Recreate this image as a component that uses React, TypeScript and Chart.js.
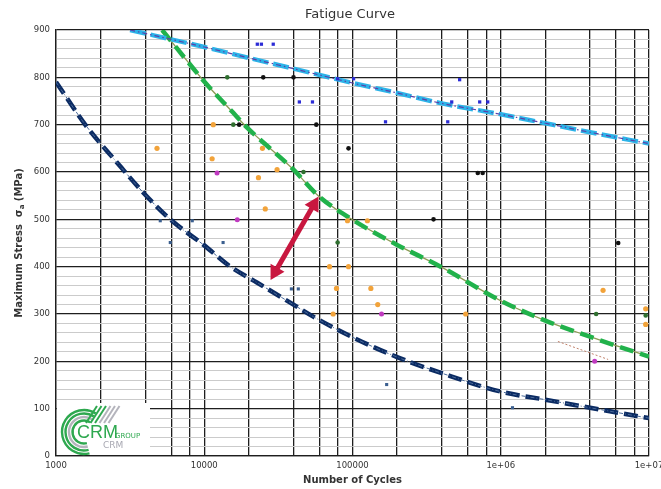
import React, { useEffect, useRef } from "react";
import { Chart, registerables } from "chart.js";
Chart.register(...registerables);

// ---- axis ticks ----
const xTickValues = [1000, 2000, 4000, 6000, 8000, 10000, 20000, 40000, 60000, 80000, 100000, 200000, 400000, 600000, 800000, 1000000, 2000000, 4000000, 6000000, 8000000, 10000000];
const xDecadeValues = [1000, 10000, 100000, 1000000, 10000000];
const xDecadeLabels = ["1000", "10000", "100000", "1e+06", "1e+07"];
const yLabelValues = [0, 100, 200, 300, 400, 500, 600, 700, 800, 900];
const yLabels = ["0", "100", "200", "300", "400", "500", "600", "700", "800", "900"];
const yMinorStep = 20;

// ---- fitted curves ----
const cyanN = [3162, 10000, 20000, 50000, 100000, 200000, 400000, 1000000, 2000000, 4000000, 10000000];
const cyanS = [900, 864, 841, 811, 788, 767, 745, 722, 703, 684, 660];

const greenN = [5200, 10200, 15700, 19000, 40000, 58700, 100000, 200000, 393000, 1000000, 2000000, 4000000, 6000000, 10000000];
const greenS = [900, 788, 725, 697, 605, 550, 499, 446, 400, 328, 286, 252, 233, 210];

const navyN = [1000, 1620, 2500, 4000, 6000, 9900, 15000, 22800, 38000, 54700, 100000, 200000, 400000, 1000000, 2000000, 4000000, 10000000];
const navyS = [790, 695, 625, 552, 498, 446, 400, 366, 324, 294, 251, 209, 175, 136, 119, 102, 80];

const dottedN = [2430000, 5300000];
const dottedS = [242, 204];

// ---- test points ----
const blueN = [22800, 24300, 29200, 43800, 53700, 79300, 101700, 528000, 467000, 721000, 817000, 167000, 439000];
const blueS = [870, 870, 870, 748, 748, 797, 797, 795, 748, 748, 748, 706, 706];

const slateN = [5050, 8300, 5900, 13400, 38700, 43100, 170000, 1200000];
const slateS = [497, 497, 451, 451, 353, 353, 151, 102];

const blackN = [25000, 40000, 57000, 17200, 94000, 700000, 755000, 352000, 6200000];
const blackS = [800, 800, 700, 700, 650, 598, 598, 500, 450];

const dkGreenN = [14300, 15700, 46700, 79400, 4400000, 9500000];
const dkGreenS = [800, 700, 600, 451, 300, 297];

const orangeN = [4800, 11300, 11500, 24700, 23200, 25800, 31000, 70000, 78000, 94000, 133000, 148000, 74000, 580000, 4900000, 9500000, 9500000, 92500, 126000];
const orangeS = [650, 628, 700, 650, 588, 522, 605, 400, 354, 400, 354, 320, 300, 300, 350, 311, 278, 497, 497];

const magentaN = [12200, 16700, 157000, 4300000];
const magentaS = [598, 499, 300, 200];

// ---- annotation arrow ----
const arrowN = [28000, 59000];
const arrowS = [372, 548];

const pts = (n: number[], s: number[]) => n.map((x, i) => ({ x, y: s[i] }));

const curve = (n: number[], s: number[], color: string, width: number, dash: number[]) => ({
  data: pts(n, s),
  showLine: true,
  borderColor: color,
  backgroundColor: color,
  borderWidth: width,
  borderDash: dash,
  pointRadius: 0,
  cubicInterpolationMode: "monotone" as const,
});

const dots = (n: number[], s: number[], color: string, style: string, r: number) => ({
  data: pts(n, s),
  showLine: false,
  pointStyle: style,
  pointRadius: r,
  pointBackgroundColor: color,
  pointBorderColor: color,
  pointBorderWidth: 0,
});

const decorPlugin = {
  id: "decor",
  afterDraw(chart: any) {
    const ctx = chart.ctx as CanvasRenderingContext2D;
    const ca = chart.chartArea;
    const xs = chart.scales.x;
    const ys = chart.scales.y;
    const cx = (ca.left + ca.right) / 2;

    // logo box
    const L = ca.left, B = ca.bottom;
    ctx.save();
    ctx.fillStyle = "#ffffff";
    ctx.fillRect(L + 1, B - 53, 93, 52);
    const arcs: [number, string][] = [[22, "#2ea84f"], [18.5, "#2ea84f"], [15, "#b4b4bc"], [11.5, "#2ea84f"]];
    arcs.forEach(([r, c]) => {
      ctx.beginPath();
      ctx.strokeStyle = c;
      ctx.lineWidth = 2.4;
      ctx.arc(L + 28, B - 24, r, -0.32 * Math.PI, 0.42 * Math.PI, true);
      ctx.stroke();
    });
    for (let i = 0; i < 6; i++) {
      ctx.beginPath();
      ctx.strokeStyle = i < 3 ? "#2ea84f" : "#b4b4bc";
      ctx.lineWidth = 2;
      const x0 = L + 30 + i * 4.5;
      ctx.moveTo(x0, B - 33);
      ctx.lineTo(x0 + 11, B - 50);
      ctx.stroke();
    }
    ctx.fillStyle = "#2ea84f";
    ctx.textAlign = "left";
    ctx.textBaseline = "alphabetic";
    ctx.font = '18px "Liberation Sans"';
    ctx.fillText("CRM", L + 21, B - 18);
    ctx.font = '7px "DejaVu Sans"';
    ctx.fillText("GROUP", L + 59, B - 18);
    ctx.fillStyle = "#a8a8b2";
    ctx.font = '9px "DejaVu Sans"';
    ctx.fillText("CRM", L + 47, B - 8);
    ctx.restore();

    // arrow
    const x1 = xs.getPixelForValue(arrowN[0]);
    const y1 = ys.getPixelForValue(arrowS[0]);
    const x2 = xs.getPixelForValue(arrowN[1]);
    const y2 = ys.getPixelForValue(arrowS[1]);
    const ang = Math.atan2(y2 - y1, x2 - x1);
    const hl = 14, hw = 8;
    ctx.save();
    ctx.strokeStyle = "#c8173f";
    ctx.fillStyle = "#c8173f";
    ctx.lineWidth = 5;
    ctx.beginPath();
    ctx.moveTo(x1 + Math.cos(ang) * hl * 0.8, y1 + Math.sin(ang) * hl * 0.8);
    ctx.lineTo(x2 - Math.cos(ang) * hl * 0.8, y2 - Math.sin(ang) * hl * 0.8);
    ctx.stroke();
    const head = (px: number, py: number, a: number) => {
      ctx.beginPath();
      ctx.moveTo(px, py);
      ctx.lineTo(px - Math.cos(a) * hl - Math.sin(a) * hw, py - Math.sin(a) * hl + Math.cos(a) * hw);
      ctx.lineTo(px - Math.cos(a) * hl + Math.sin(a) * hw, py - Math.sin(a) * hl - Math.cos(a) * hw);
      ctx.closePath();
      ctx.fill();
    };
    head(x2, y2, ang);
    head(x1, y1, ang + Math.PI);
    ctx.restore();

    // titles
    ctx.save();
    ctx.fillStyle = "#333333";
    ctx.textAlign = "center";
    ctx.textBaseline = "middle";
    ctx.font = '13px "DejaVu Sans"';
    ctx.fillText("Fatigue Curve", 350, 15);
    ctx.font = 'bold 10px "DejaVu Sans"';
    ctx.fillText("Number of Cycles", cx, 480);
    ctx.restore();

    // y title with subscript
    ctx.save();
    ctx.translate(19, (ca.top + ca.bottom) / 2);
    ctx.rotate(-Math.PI / 2);
    ctx.fillStyle = "#333333";
    ctx.textBaseline = "middle";
    ctx.textAlign = "left";
    const mainFont = 'bold 10px "DejaVu Sans"';
    const subFont = 'bold 7px "DejaVu Sans"';
    const p1 = "Maximum Stress  σ";
    const p2 = "a";
    const p3 = " (MPa)";
    ctx.font = mainFont;
    const w1 = ctx.measureText(p1).width;
    const w3 = ctx.measureText(p3).width;
    ctx.font = subFont;
    const w2 = ctx.measureText(p2).width;
    let sx = -(w1 + w2 + w3) / 2;
    ctx.font = mainFont;
    ctx.fillText(p1, sx, 0);
    sx += w1;
    ctx.font = subFont;
    ctx.fillText(p2, sx, 3);
    sx += w2;
    ctx.font = mainFont;
    ctx.fillText(p3, sx, 0);
    ctx.restore();
  },
};

export default function App() {
  const ref = useRef<HTMLCanvasElement>(null);
  useEffect(() => {
    if (!ref.current) return;
    const chart = new Chart(ref.current, {
      type: "scatter",
      data: {
        datasets: [
          dots(blueN, blueS, "#2b2bd6", "rect", 2.3),
          dots(slateN, slateS, "#3b5f8f", "rect", 2.2),
          dots(blackN, blackS, "#111111", "circle", 2.3),
          dots(dkGreenN, dkGreenS, "#2f6f2f", "circle", 2.3),
          dots(orangeN, orangeS, "#f2a33a", "circle", 2.6),
          dots(magentaN, magentaS, "#c03ac0", "circle", 2.5),
          curve(cyanN, cyanS, "#5b3fa8", 1.2, [5, 3, 1.5, 3]),
          curve(cyanN, cyanS, "#2cb3e8", 4.5, [16, 5]),
          curve(greenN, greenS, "#21b24b", 4.5, [14, 7]),
          curve(greenN, greenS, "#8c9b55", 1.3, []),
          curve(navyN, navyS, "#4a6a9a", 1, [4, 2, 1, 2]),
          curve(navyN, navyS, "#0b2b63", 4.5, [14, 6]),
          curve(dottedN, dottedS, "#c0806a", 1, [2, 2]),
        ] as any,
      },
      options: {
        animation: false,
        responsive: true,
        maintainAspectRatio: false,
        layout: { padding: { top: 30, right: 12, left: 0, bottom: 0 }, autoPadding: false } as any,
        plugins: { legend: { display: false }, title: { display: false }, tooltip: { enabled: false } },
        scales: {
          x: {
            type: "logarithmic",
            min: 1000,
            max: 10000000,
            afterBuildTicks: (axis: any) => {
              axis.ticks = xTickValues.map((v) => ({ value: v }));
            },
            afterFit: (axis: any) => {
              axis.height = 33;
              axis.paddingLeft = 0;
              axis.paddingRight = 0;
            },
            ticks: {
              autoSkip: false,
              maxRotation: 0,
              minRotation: 0,
              padding: 5,
              color: "#333",
              font: { family: "DejaVu Sans", size: 8.5 },
              callback: (value: any) => {
                const i = xDecadeValues.indexOf(Number(value));
                return i >= 0 ? xDecadeLabels[i] : "";
              },
            },
            grid: { color: "#1e1e1e", lineWidth: 1.3, drawTicks: false },
            border: { display: true, color: "#1e1e1e", width: 1.3 },
          },
          y: {
            type: "linear",
            min: 0,
            max: 900,
            afterBuildTicks: (axis: any) => {
              const t: any[] = [];
              for (let v = 0; v <= 900; v += yMinorStep) t.push({ value: v });
              axis.ticks = t;
            },
            afterFit: (axis: any) => {
              axis.width = 56;
              axis.paddingTop = 0;
              axis.paddingBottom = 0;
            },
            ticks: {
              autoSkip: false,
              padding: 6,
              color: "#333",
              font: { family: "DejaVu Sans", size: 8.5 },
              callback: (value: any) => {
                const i = yLabelValues.indexOf(Number(value));
                return i >= 0 ? yLabels[i] : "";
              },
            },
            grid: {
              drawTicks: false,
              color: (c: any) => (c.tick && c.tick.value % 100 === 0 ? "#1e1e1e" : "#cbcbcb"),
              lineWidth: (c: any) => (c.tick && c.tick.value % 100 === 0 ? 1.3 : 1),
            },
            border: { display: true, color: "#1e1e1e", width: 1.3 },
          },
        },
      },
      plugins: [decorPlugin],
    });
    return () => chart.destroy();
  }, []);
  return (
    <div style={{ position: "fixed", left: 0, top: 0, width: 661, height: 489, background: "#fff" }}>
      <canvas ref={ref} />
    </div>
  );
}
